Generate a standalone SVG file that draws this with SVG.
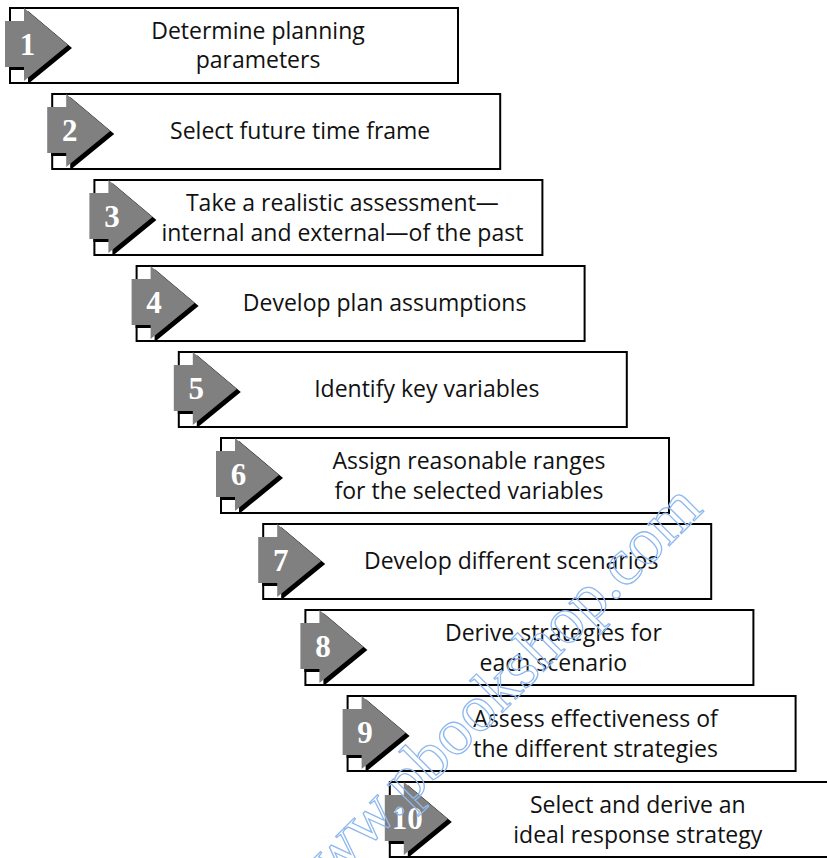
<svg xmlns="http://www.w3.org/2000/svg" xmlns:xlink="http://www.w3.org/1999/xlink" width="827" height="858" viewBox="0 0 827 858">
<style>
.box{fill:#fff;stroke:#000;stroke-width:2}
.lbl{font-family:"Open Sans","Noto Sans","Liberation Sans",sans-serif;font-size:23px;fill:#111;text-anchor:middle}
.num{font-family:"Liberation Serif","Times New Roman",serif;font-weight:bold;font-size:31px;fill:#fff;text-anchor:middle}
.wm{font-family:"Liberation Serif",serif;font-size:66px;fill:none;stroke:#8fb8ee;stroke-width:1.3}
</style>
<defs>
<g id="arrow">
<polygon points="-1,16 18,16 18,3 62,40 18,76 18,62 -1,62" fill="#000"/>
<polygon points="-5,13 14,13 14,0 58,37 14,73 14,59 -5,59" fill="#808080"/>
</g>
</defs>
<rect width="827" height="858" fill="#fff"/>
<g id="step1">
<rect class="box" x="10" y="8" width="448" height="75"/>
<use xlink:href="#arrow" x="10" y="8"/>
<text class="num" x="27.5" y="55">1</text>
<text class="lbl" x="258" y="39">Determine planning</text>
<text class="lbl" x="258" y="68">parameters</text>
</g>
<g id="step2">
<rect class="box" x="52.2" y="94" width="448" height="75"/>
<use xlink:href="#arrow" x="52.2" y="94"/>
<text class="num" x="69.7" y="141">2</text>
<text class="lbl" x="300.2" y="139">Select future time frame</text>
</g>
<g id="step3">
<rect class="box" x="94.4" y="180" width="448" height="75"/>
<use xlink:href="#arrow" x="94.4" y="180"/>
<text class="num" x="111.9" y="227">3</text>
<text class="lbl" x="342.4" y="211">Take a realistic assessment—</text>
<text class="lbl" x="342.4" y="241">internal and external—of the past</text>
</g>
<g id="step4">
<rect class="box" x="136.6" y="266" width="448" height="75"/>
<use xlink:href="#arrow" x="136.6" y="266"/>
<text class="num" x="154.1" y="313">4</text>
<text class="lbl" x="384.6" y="311">Develop plan assumptions</text>
</g>
<g id="step5">
<rect class="box" x="178.8" y="352" width="448" height="75"/>
<use xlink:href="#arrow" x="178.8" y="352"/>
<text class="num" x="196.3" y="399">5</text>
<text class="lbl" x="426.8" y="397">Identify key variables</text>
</g>
<g id="step6">
<rect class="box" x="221" y="438" width="448" height="75"/>
<use xlink:href="#arrow" x="221" y="438"/>
<text class="num" x="238.5" y="485">6</text>
<text class="lbl" x="469" y="469">Assign reasonable ranges</text>
<text class="lbl" x="469" y="499">for the selected variables</text>
</g>
<g id="step7">
<rect class="box" x="263.2" y="524" width="448" height="75"/>
<use xlink:href="#arrow" x="263.2" y="524"/>
<text class="num" x="280.7" y="571">7</text>
<text class="lbl" x="511.2" y="569">Develop different scenarios</text>
</g>
<g id="step8">
<rect class="box" x="305.4" y="610" width="448" height="75"/>
<use xlink:href="#arrow" x="305.4" y="610"/>
<text class="num" x="322.9" y="657">8</text>
<text class="lbl" x="553.4" y="641">Derive strategies for</text>
<text class="lbl" x="553.4" y="671">each scenario</text>
</g>
<g id="step9">
<rect class="box" x="347.6" y="696" width="448" height="75"/>
<use xlink:href="#arrow" x="347.6" y="696"/>
<text class="num" x="365.1" y="743">9</text>
<text class="lbl" x="595.6" y="727">Assess effectiveness of</text>
<text class="lbl" x="595.6" y="757">the different strategies</text>
</g>
<g id="step10">
<rect class="box" x="389.8" y="782" width="448" height="75"/>
<use xlink:href="#arrow" x="389.8" y="782"/>
<text class="num" x="407.3" y="829">10</text>
<text class="lbl" x="637.8" y="813">Select and derive an</text>
<text class="lbl" x="637.8" y="843">ideal response strategy</text>
</g>
<g id="watermark">
<text class="wm" transform="translate(298,917) rotate(-45)">www.pbookshop.com</text>
</g>
</svg>
